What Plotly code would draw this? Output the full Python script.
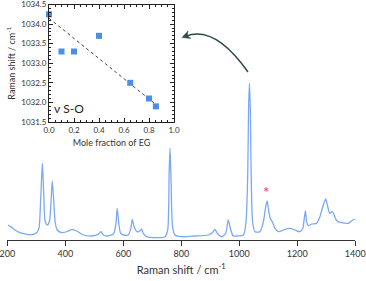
import plotly.graph_objects as go
import math

# ---- main spectrum ----
raman_shift = [202, 215, 226, 244, 267, 290, 301, 309, 315, 321, 326, 331, 339, 346, 351,
               355, 360, 365, 372, 388, 405, 422, 439, 462, 491, 514, 523, 531, 543, 566,
               574, 579, 585, 591, 602, 617, 626, 631, 638, 647, 658, 663, 669, 681, 709,
               744, 753, 758, 761, 764, 770, 778, 801, 847, 893, 907, 916, 924, 939, 953,
               962, 969, 979, 991, 1014, 1023, 1029, 1032, 1035, 1038, 1041, 1046, 1054, 1071, 1083,
               1090, 1096, 1100, 1106, 1114, 1123, 1135, 1158, 1175, 1192, 1209, 1219, 1224, 1228, 1232,
               1238, 1250, 1267, 1278, 1288, 1298, 1305, 1312, 1320, 1327, 1336, 1353, 1376, 1390, 1399]
intensity = [15, 12.7, 10, 7.3, 5.7, 5.7, 7.3, 11.7, 40, 76.7, 43, 18, 15, 20, 40,
             59, 40, 18, 10, 7.3, 8.3, 10.3, 9, 5, 4, 5.7, 8.3, 5, 4, 6,
             15, 31.7, 15, 6.7, 5, 5, 11.7, 20.7, 12.7, 8.3, 9.3, 11, 6.7, 3.3, 2.3,
             3.3, 10, 66.7, 91.7, 66.7, 13.3, 5, 3.3, 4, 5, 7.3, 10.7, 6.7, 3.3, 6.7,
             20, 11.7, 4, 4, 5, 18, 65, 131.7, 156.7, 131.7, 65, 18, 8.3, 8.3, 18,
             31.7, 39, 31.7, 22.3, 18, 11.7, 8.3, 10.7, 11.7, 10, 8.3, 11.7, 21.7, 29, 18.3,
             14.3, 16, 16.7, 23.3, 33.3, 41, 33.3, 26.7, 28.3, 25, 19.3, 17.3, 16.7, 19.7, 21]
main_ticks = [200, 400, 600, 800, 1000, 1200, 1400]

# ---- inset ----
mole_fraction = [0.0, 0.1, 0.2, 0.4, 0.65, 0.8, 0.855]
inset_shift = [1034.25, 1033.3, 1033.3, 1033.7, 1032.5, 1032.1, 1031.9]
fit_x = [0.0, 0.885]
fit_y = [1034.15, 1031.87]
marker_label = "*"
marker_pos = [1091, 52]

W, H = 366, 281
FONT = "Lato"
TXT = "#333333"


def px(x, y):
    return x / W, 1 - y / H


fig = go.Figure()
fig.add_trace(go.Scatter(x=raman_shift, y=intensity, mode="lines",
                         line=dict(color="#7aa8f5", width=1.3, shape="spline", smoothing=0.7),
                         xaxis="x", yaxis="y", hoverinfo="skip"))
fig.add_trace(go.Scatter(x=fit_x, y=fit_y, mode="lines",
                         line=dict(color="#444444", width=1, dash="dot"),
                         xaxis="x2", yaxis="y2"))
fig.add_trace(go.Scatter(x=mole_fraction, y=inset_shift, mode="markers",
                         marker=dict(symbol="square", size=6, color="#4a8fe7"),
                         cliponaxis=False, xaxis="x2", yaxis="y2"))

axis_inset = dict(showline=True, linecolor="#222222", linewidth=1, mirror="allticks",
                  ticks="inside", ticklen=4, tickcolor="#222222", showgrid=False, zeroline=False,
                  automargin=False, ticklabeloverflow="allow",
                  tickfont=dict(size=8, color=TXT, family=FONT))

fig.update_layout(
    width=W, height=H, margin=dict(l=0, r=0, t=0, b=0, autoexpand=False),
    paper_bgcolor="white", plot_bgcolor="rgba(0,0,0,0)", showlegend=False,
    font=dict(family=FONT, color=TXT),
    xaxis=dict(domain=[7.3 / W, 355.3 / W], range=[200, 1400], tickvals=main_ticks,
               showline=True, linecolor="#333333", linewidth=1, ticks="outside", ticklen=5,
               tickcolor="#333333", showgrid=False, zeroline=False, automargin=False,
               ticklabeloverflow="allow",
               tickfont=dict(size=9, color=TXT),
               title=dict(text="Raman shift / cm<sup>-1</sup>", font=dict(size=11, color=TXT), standoff=8),
               anchor="y"),
    yaxis=dict(domain=[1 - 240 / H, 1 - 80 / H], range=[0, 160], visible=False, anchor="x",
               automargin=False),
    xaxis2=dict(axis_inset, domain=[49 / W, 174 / W], range=[0, 1], dtick=0.2, tickformat=".1f",
                minor=dict(dtick=0.05, ticks="inside", ticklen=2, tickcolor="#222222"),
                title=dict(text="Mole fraction of EG", font=dict(size=9, color=TXT), standoff=6),
                anchor="y2"),
    yaxis2=dict(axis_inset, domain=[1 - 122 / H, 1 - 4.5 / H], range=[1031.5, 1034.5], dtick=0.5,
                tickformat=".1f",
                minor=dict(dtick=0.1, ticks="inside", ticklen=2, tickcolor="#222222"),
                title=dict(text="Raman shift / cm<sup>-1</sup>", font=dict(size=9, color=TXT), standoff=4),
                anchor="x2"),
)

# nu S-O label
fig.add_annotation(x=0.02, y=1031.6, xref="x2", yref="y2", text="ν S-O", showarrow=False,
                   xanchor="left", yanchor="bottom", font=dict(size=12, color="#222222", family=FONT))

# red asterisk
fig.add_annotation(x=marker_pos[0], y=marker_pos[1], xref="x", yref="y", text=marker_label,
                   showarrow=False, font=dict(size=15, color="#ff3b3b", family=FONT), yshift=-4)

# curved arrow
p0 = (248, 72)
c = (215, 25)
p2 = (186, 36)
a, b, cc = px(*p0), px(*c), px(*p2)
fig.add_shape(type="path", xref="paper", yref="paper",
              path=f"M {a[0]},{a[1]} Q {b[0]},{b[1]} {cc[0]},{cc[1]}",
              line=dict(color="#2e4a4a", width=1.5))
tip = (182, 37.5)
dx, dy = p2[0] - c[0], p2[1] - c[1]
L = math.hypot(dx, dy)
dx, dy = dx / L, dy / L
nx, ny = -dy, dx
base = (tip[0] - 8 * dx, tip[1] - 8 * dy)
b1 = (base[0] + 4 * nx, base[1] + 4 * ny)
b2 = (base[0] - 4 * nx, base[1] - 4 * ny)
notch = (tip[0] - 5.5 * dx, tip[1] - 5.5 * dy)
pts = [px(*tip), px(*b1), px(*notch), px(*b2)]
fig.add_shape(type="path", xref="paper", yref="paper",
              path="M " + " L ".join(f"{p[0]},{p[1]}" for p in pts) + " Z",
              fillcolor="#2e4a4a", line=dict(color="#2e4a4a", width=0.5))

fig.write_html("out.html", config={"displayModeBar": False},
               post_script="document.body.style.margin='0';document.body.style.overflow='hidden';")
